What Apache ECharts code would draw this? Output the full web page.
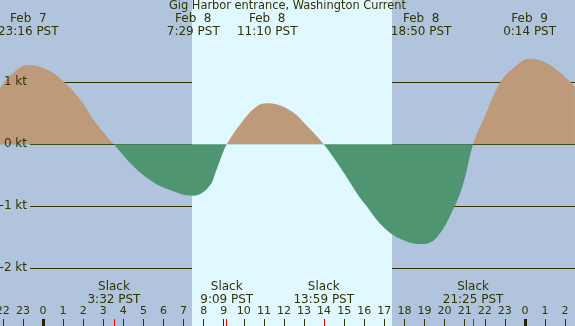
<!DOCTYPE html>
<html>
 <head>
  <meta charset="utf-8" />
  <title>Gig Harbor entrance current</title>
  <script src="https://cdn.jsdelivr.net/npm/echarts@6/dist/echarts.min.js"></script>
  <style>
   html, body { margin: 0; padding: 0; }
  </style>
 </head>
 <body>
  <div id="main" style="width: 575px;height:326px;"></div>
  <script type="text/javascript">

    // hours since Feb 8 00:00 PST, current in knots (flood +, ebb -)
    var hours = [-2.14, -1.59, -0.73, 0.23, 1.06, 1.88, 2.60, 3.53, 4.43, 5.34, 6.26, 7.48, 8.27, 8.64, 8.92, 9.15,
                 9.91, 10.64, 11.17, 12.29, 13.20, 13.98, 14.84, 15.76, 16.12, 16.85, 17.76, 18.83,
                 19.59, 20.50, 20.96, 21.42, 21.96, 22.78, 23.43, 24.23, 25.25, 26.49];
    var knots = [0.90, 1.12, 1.28, 1.20, 1.00, 0.71, 0.36, 0, -0.33, -0.58, -0.73, -0.83, -0.68, -0.41, -0.17, 0,
                 0.36, 0.61, 0.66, 0.55, 0.28, 0, -0.39, -0.85, -1.0, -1.30, -1.52, -1.61,
                 -1.51, -1.0, -0.60, 0, 0.42, 1.0, 1.23, 1.38, 1.28, 0.93];

    // max current times (top labels)
    var maxHours = [-0.733, 7.483, 11.167, 18.833, 24.233];
    var maxLabels = ['Feb  7\n23:16 PST', 'Feb  8\n7:29 PST', 'Feb  8\n11:10 PST', 'Feb  8\n18:50 PST', 'Feb  9\n0:14 PST'];

    // slack water times (bottom labels)
    var slackHours = [3.533, 9.15, 13.983, 21.417];
    var slackLabels = ['Slack\n3:32 PST', 'Slack\n9:09 PST', 'Slack\n13:59 PST', 'Slack\n21:25 PST'];

    // hour ticks and midnights
    var hourTicks = [];
    for (var h = -2; h <= 26; h++) hourTicks.push(h);
    var midnights = [0, 24];

    // daylight (sunrise, sunset)
    var daylight = [7.42, 17.38];

    var xMin = -2.141, xMax = 26.494;
    var yMin = -2.931, yMax = 2.327;

    var fg = '#333300';
    var font = 'DejaVu Sans';

    var myChart = echarts.init(document.getElementById('main'));

    var curve = [];
    for (var i = 0; i < hours.length; i++) curve.push([hours[i], knots[i]]);

    var noLine = { show: false, onZero: false };

    myChart.setOption({
        backgroundColor: '#b0c4de',
        animation: false,
        title: {
            text: 'Gig Harbor entrance, Washington Current',
            left: 'center',
            top: 1,
            padding: 0,
            textStyle: { color: fg, fontSize: 11.4, fontWeight: 'normal', fontFamily: font }
        },
        grid: [
            { left: 0, right: 0, top: 0, bottom: 0, containLabel: false, outerBoundsMode: 'none' },
            { left: 30, right: 0, top: 82.3, bottom: 57.7, containLabel: false, outerBoundsMode: 'none' }
        ],
        xAxis: [
            { // hour ticks
                type: 'value', gridIndex: 0, min: xMin, max: xMax, position: 'bottom', z: 5,
                axisLine: noLine,
                splitLine: { show: false },
                axisTick: { show: true, inside: true, length: 7, customValues: hourTicks,
                            lineStyle: { color: fg, width: 1 } },
                axisLabel: { show: true, inside: true, margin: 9, customValues: hourTicks,
                             color: fg, fontSize: 11, fontFamily: font,
                             formatter: function (v) { return String(((Math.round(v) % 24) + 24) % 24); } }
            },
            { // midnight ticks
                type: 'value', gridIndex: 0, min: xMin, max: xMax, position: 'bottom', z: 7,
                axisLine: noLine,
                splitLine: { show: false },
                axisTick: { show: true, inside: true, length: 7, customValues: midnights,
                            lineStyle: { color: '#222200', width: 3 } },
                axisLabel: { show: false }
            },
            { // slack ticks and labels
                type: 'value', gridIndex: 0, min: xMin, max: xMax, position: 'bottom', z: 6,
                axisLine: noLine,
                splitLine: { show: false },
                axisTick: { show: true, inside: true, length: 7, customValues: slackHours,
                            lineStyle: { color: '#ff0000', width: 1 } },
                axisLabel: { show: true, inside: true, margin: 20, customValues: slackHours,
                             color: fg, fontSize: 12, lineHeight: 13, fontFamily: font,
                             formatter: function (v) { return slackLabels[slackHours.indexOf(v)]; } }
            },
            { // max current labels
                type: 'value', gridIndex: 0, min: xMin, max: xMax, position: 'top', z: 6,
                axisLine: noLine,
                splitLine: { show: false },
                axisTick: { show: false },
                axisLabel: { show: true, inside: true, margin: 12, customValues: maxHours,
                             color: fg, fontSize: 12, lineHeight: 13, fontFamily: font,
                             formatter: function (v) { return maxLabels[maxHours.indexOf(v)]; } }
            },
            { type: 'value', gridIndex: 1, min: xMin, max: xMax, show: false, axisLine: noLine }
        ],
        yAxis: [
            { type: 'value', gridIndex: 0, min: yMin, max: yMax, show: false, axisLine: noLine },
            { // kt grid lines, below the fill
                type: 'value', gridIndex: 1, min: -2, max: 1, interval: 1, z: 1, position: 'left',
                axisLine: noLine, axisTick: { show: false }, axisLabel: { show: false },
                splitLine: { show: true, lineStyle: { color: fg, width: 1 } }
            },
            { // kt labels, above the fill
                type: 'value', gridIndex: 1, min: -2, max: 1, interval: 1, z: 6, position: 'left',
                axisLine: noLine, axisTick: { show: false }, splitLine: { show: false },
                axisLabel: { show: true, margin: 3, color: fg, fontSize: 12, fontFamily: font,
                             formatter: '{value} kt' }
            }
        ],
        visualMap: {
            type: 'piecewise',
            show: false,
            seriesIndex: 1,
            dimension: 1,
            pieces: [
                { gte: -10, lte: 0, color: '#4f9571' },
                { gt: 0, lte: 10, color: '#bd9a7a' }
            ]
        },
        series: [
            {
                type: 'line', xAxisIndex: 0, yAxisIndex: 0, z: 0, data: [],
                markArea: {
                    silent: true,
                    itemStyle: { color: '#e0f8ff', opacity: 1 },
                    data: [[{ xAxis: daylight[0] }, { xAxis: daylight[1] }]]
                }
            },
            {
                type: 'line', xAxisIndex: 0, yAxisIndex: 0, z: 2,
                data: curve,
                smooth: 0.4,
                showSymbol: false,
                lineStyle: { width: 0 },
                areaStyle: { opacity: 1 }
            }
        ]
    });
</script>
 </body>
</html>
